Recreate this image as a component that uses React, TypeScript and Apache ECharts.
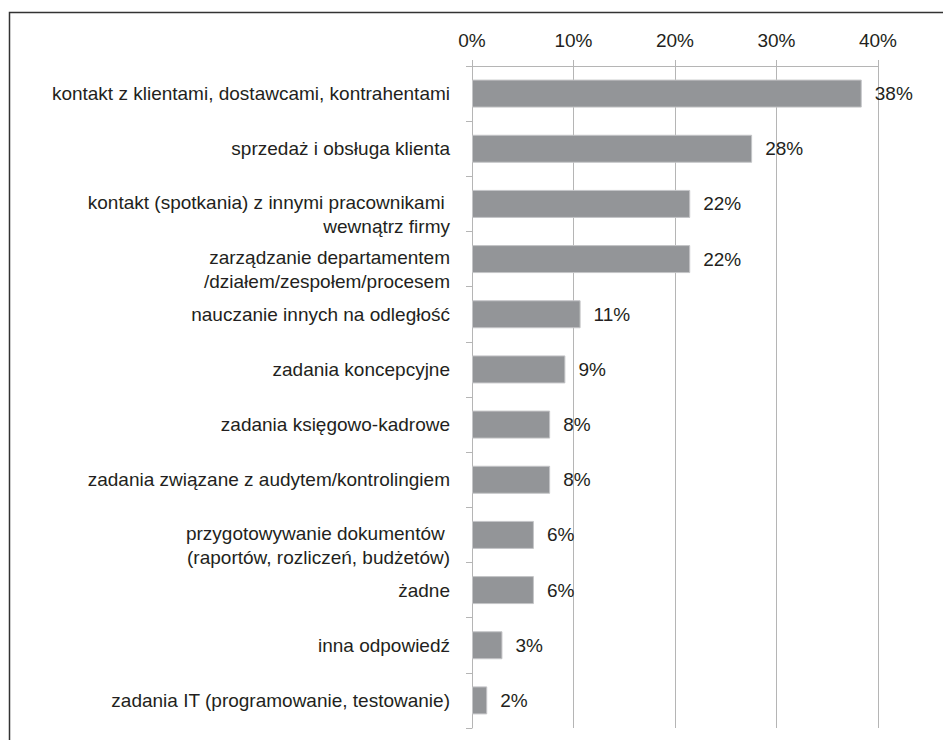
import React, { useEffect, useRef } from "react";
import * as echarts from "echarts";

const categories: string[] = [
  "kontakt z klientami, dostawcami, kontrahentami",
  "sprzedaż i obsługa klienta",
  "kontakt (spotkania) z innymi pracownikami \nwewnątrz firmy",
  "zarządzanie departamentem\n/działem/zespołem/procesem",
  "nauczanie innych na odległość",
  "zadania koncepcyjne",
  "zadania księgowo-kadrowe",
  "zadania związane z audytem/kontrolingiem",
  "przygotowywanie dokumentów \n(raportów, rozliczeń, budżetów)",
  "żadne",
  "inna odpowiedź",
  "zadania IT (programowanie, testowanie)",
];

const values: number[] = [38.4, 27.6, 21.5, 21.5, 10.7, 9.2, 7.7, 7.7, 6.1, 6.1, 3.0, 1.5];

const xTicks = { min: 0, max: 40, interval: 10 };

const FONT = "'Liberation Sans', Arial, sans-serif";
const TEXT = "#231f20";

export default function App() {
  const ref = useRef<HTMLDivElement>(null);
  useEffect(() => {
    if (!ref.current) return;
    const chart = echarts.init(ref.current, undefined, { renderer: "svg" });
    chart.setOption({
      animation: false,
      backgroundColor: "#ffffff",
      textStyle: { fontFamily: FONT },
      graphic: [
        {
          type: "rect",
          shape: { x: 9.5, y: 12.5, width: 1000, height: 800 },
          style: { fill: "none", stroke: "#333333", lineWidth: 1.5 },
          silent: true,
        },
      ],
      grid: { left: 472, right: 65, top: 66, bottom: 12, containLabel: false },
      xAxis: {
        type: "value",
        position: "top",
        min: xTicks.min,
        max: xTicks.max,
        interval: xTicks.interval,
        axisLine: { show: true, lineStyle: { color: "#b5b5b5", width: 1 } },
        axisTick: { show: true, length: 6, lineStyle: { color: "#b5b5b5" } },
        splitLine: { show: true, lineStyle: { color: "#b5b5b5", width: 1 } },
        axisLabel: {
          formatter: "{value}%",
          fontSize: 19,
          fontFamily: FONT,
          color: TEXT,
          margin: 16,
        },
      },
      yAxis: {
        type: "category",
        inverse: true,
        data: categories,
        axisLine: { show: true, lineStyle: { color: "#b5b5b5", width: 1 } },
        axisTick: { show: true, length: 6, lineStyle: { color: "#b5b5b5" } },
        axisLabel: {
          fontSize: 19,
          fontFamily: FONT,
          color: TEXT,
          margin: 22,
          lineHeight: 24,
          align: "right",
          formatter: (v: string) =>
            v.includes("\n")
              ? "{s| }\n" + v
                  .split("\n")
                  .map((l) => "{n|" + l + "}")
                  .join("\n")
              : "{n|" + v + "}",
          rich: {
            s: { fontSize: 8, lineHeight: 21 },
            n: {
              fontSize: 19,
              fontFamily: FONT,
              color: TEXT,
              lineHeight: 24,
              align: "right",
            },
          },
        },
      },
      series: [
        {
          type: "bar",
          data: values,
          barWidth: 28,
          itemStyle: { color: "#939598", borderColor: "#c4c5c7", borderWidth: 1 },
          label: {
            show: true,
            position: "right",
            distance: 13,
            formatter: (p: any) => Math.round(p.value) + "%",
            fontSize: 19,
            fontFamily: FONT,
            color: TEXT,
          },
        },
      ],
    });
    return () => chart.dispose();
  }, []);
  return (
    <div
      ref={ref}
      style={{ position: "fixed", left: 0, top: 0, width: 943, height: 740 }}
    />
  );
}
